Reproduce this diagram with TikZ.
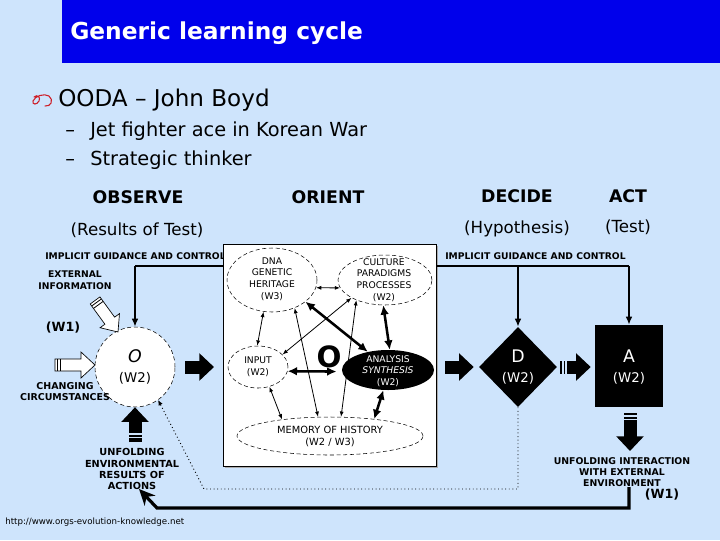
\documentclass[tikz,border=0pt]{standalone}
\usepackage{fontspec}
\setmainfont{DejaVu Sans}
\usetikzlibrary{arrows.meta,shapes.geometric}
\definecolor{bgc}{RGB}{206,228,252}
\definecolor{titleblue}{RGB}{0,0,235}
\definecolor{bulletred}{RGB}{205,30,40}
\begin{document}
\begin{tikzpicture}[x=0.75pt,y=-0.75pt,
  lab/.style={font=\fontsize{6.9}{9}\selectfont\bfseries, align=center, inner sep=0},
  inlab/.style={font=\fontsize{6.9}{8.8}\selectfont, align=center, inner sep=0},
  head/.style={font=\fontsize{13}{15}\selectfont\bfseries, inner sep=0},
  subhead/.style={font=\fontsize{12.5}{15}\selectfont, inner sep=0},
  ell/.style={ellipse, draw=black, densely dashed, line width=0.4pt, fill=white, inner sep=0},
  fatarrow/.style={line width=9.75pt, -{Triangle[length=11pt,width=20pt]}},
  ig/.style={line width=1.9pt, -{Latex[length=6pt,width=5pt]}},
  thinarr/.style={{Latex[length=4pt,width=3pt]}-{Latex[length=4pt,width=3pt]}, line width=0.6pt},
  thickarr/.style={{Latex[length=7pt,width=6.5pt]}-{Latex[length=7pt,width=6.5pt]}, line width=1.9pt},
  stripe/.style={bgc, line width=0.9pt}
]
\useasboundingbox (0,0) rectangle (720,540);
\fill[bgc] (0,0) rectangle (720,540);

% title
\fill[titleblue] (62,0) rectangle (720,63);
\node[anchor=west, text=white, font=\fontsize{17.5}{20}\selectfont\bfseries, inner sep=0] (title) at (70,33) {Generic learning cycle};

% bullets
\draw[bulletred, line width=0.8pt, line cap=round]
  (34,97) .. controls (37,94) and (41,97) .. (39,101)
  .. controls (37,105) and (32,105) .. (33,101)
  .. controls (35,96) and (44,93) .. (49,96)
  .. controls (54,100) and (51,107) .. (45,106);
\node[anchor=west, font=\fontsize{17.3}{20}\selectfont, inner sep=0] (ooda) at (58,100) {OODA – John Boyd};
\node[anchor=west, font=\fontsize{14.5}{17}\selectfont, inner sep=0] (jet) at (65,131) {\makebox[18.75pt][l]{–}Jet fighter ace in Korean War};
\node[anchor=west, font=\fontsize{14.5}{17}\selectfont, inner sep=0] (strat) at (65,160) {\makebox[18.75pt][l]{–}Strategic thinker};

% headings
\node[head] (hobs) at (138,197) {OBSERVE};
\node[head] (hori) at (328,197) {ORIENT};
\node[head] (hdec) at (517,196) {DECIDE};
\node[head] (hact) at (628,196) {ACT};
\node[subhead] (sobs) at (137,230) {(Results of Test)};
\node[subhead] (sdec) at (517,229) {(Hypothesis)};
\node[subhead] (sact) at (628,227) {(Test)};

% implicit guidance labels (left one runs under the box)
\node[lab, anchor=west] (igltext) at (45,256) {IMPLICIT GUIDANCE AND CONTROL};
\node[lab, anchor=west] (igrtext) at (445,256) {IMPLICIT GUIDANCE AND CONTROL};

% orient box
\node[fill=gray!65, minimum width=159.75pt, minimum height=166.5pt, inner sep=0] (boxsh) at (331.5,357) {};
\node[draw=black, fill=white, line width=0.5pt, minimum width=159.75pt, minimum height=166.5pt, inner sep=0] (box) at (329.5,355) {};

% observe circle
\node[circle, draw=black, densely dashed, line width=0.4pt, fill=white, minimum size=60pt, inner sep=0] (oc) at (135,367) {};
\node[font=\fontsize{13}{15}\selectfont\itshape, inner sep=0] (octxt) at (135,356) {O};
\node[font=\fontsize{10}{12}\selectfont, inner sep=0] (ocw) at (135,378) {(W2)};

% decide diamond, act box
\node[diamond, fill=black, minimum width=58.5pt, minimum height=60pt, inner sep=0] (dd) at (518,367) {};
\node[text=white, font=\fontsize{13}{15}\selectfont, inner sep=0] (ddtxt) at (518,356) {D};
\node[text=white, font=\fontsize{10}{12}\selectfont, inner sep=0] (ddw) at (518,378) {(W2)};
\node[fill=black, minimum width=51pt, minimum height=61.5pt, inner sep=0] (aa) at (629,366) {};
\node[text=white, font=\fontsize{13}{15}\selectfont, inner sep=0] (aatxt) at (629,356) {A};
\node[text=white, font=\fontsize{10}{12}\selectfont, inner sep=0] (aaw) at (629,378) {(W2)};

% labels around observe
\node[lab] (extinfo) at (75,280) {EXTERNAL\\INFORMATION};
\node[font=\fontsize{9.5}{11}\selectfont\bfseries, inner sep=0] (w1l) at (63,328) {(W1)};
\node[lab, font=\fontsize{7.1}{8.3}\selectfont\bfseries] (chg) at (65,392) {CHANGING\\CIRCUMSTANCES};
\node[lab, font=\fontsize{7.3}{8.3}\selectfont\bfseries] (unf) at (132,469) {UNFOLDING\\ENVIRONMENTAL\\RESULTS OF\\ACTIONS};
\node[lab, font=\fontsize{7}{8.5}\selectfont\bfseries] (unfi) at (622,472) {UNFOLDING INTERACTION\\WITH EXTERNAL\\ENVIRONMENT};
\node[font=\fontsize{9.5}{11}\selectfont\bfseries, inner sep=0] (w1r) at (662,495) {(W1)};

% white block arrows into O
\draw[fill=white, line width=0.5pt] (55,359) -- (81,359) -- (81,352) -- (95,365) -- (81,378) -- (81,371) -- (55,371) -- cycle;
\draw[line width=0.6pt] (57.5,359) -- (57.5,371) (60.5,359) -- (60.5,371);
\begin{scope}[shift={(118,332)}, rotate=-54]
  \draw[fill=white, line width=0.5pt] (-39,-6) -- (-14,-6) -- (-14,-12) -- (0,0) -- (-14,12) -- (-14,6) -- (-39,6) -- cycle;
  \draw[line width=0.6pt] (-36.5,-6) -- (-36.5,6) (-33.5,-6) -- (-33.5,6);
\end{scope}

% inner ellipses
\node[ell, minimum width=67.5pt, minimum height=48pt] (dna) at (272,280) {};
\node[ell, minimum width=70.5pt, minimum height=37.5pt] (cul) at (385,280) {};
\node[ell, minimum width=45pt, minimum height=31.5pt] (inp) at (258,367) {};
\node[ellipse, fill=black, inner sep=0, minimum width=69pt, minimum height=30pt] (ana) at (388,370) {};
\node[ell, minimum width=139.5pt, minimum height=28.5pt] (mem) at (330,436) {};
\node[inlab] (dnatxt) at (272,279) {DNA\\GENETIC\\HERITAGE\\(W3)};
\node[inlab] (cultxt) at (384,280) {CULTURE\\PARADIGMS\\PROCESSES\\(W2)};
\node[inlab] (inptxt) at (258,367) {INPUT\\(W2)};
\node[inlab, text=white] (anatxt) at (388,371) {ANALYSIS\\\itshape SYNTHESIS\\(W2)};
\node[inlab, font=\fontsize{7.4}{9}\selectfont] (memtxt) at (330,436) {MEMORY OF HISTORY\\(W2 / W3)};
\node[font=\fontsize{22}{24}\selectfont\bfseries, inner sep=0] (bigo) at (329,357) {O};

% inner connectors
\draw[thinarr] (dna.-10) -- (cul.190);
\draw[thinarr] (dna.-105) -- (inp.92);
\draw[thinarr] (dna.-51) -- (mem.122);
\draw[thinarr] (cul.208) -- (inp.27);
\draw[thinarr] (cul.215) -- (mem.60);
\draw[thinarr] (inp.-60) -- (mem.161);
\draw[thickarr] (cul.-94) -- (ana.85);
\draw[thickarr] (dna.-33) -- (ana.138);
\draw[thickarr, shorten >=4pt] (inp.-8) -- (ana.182);
\draw[thickarr] (ana.-103) -- (mem.21);

% fat black arrows
\draw[fatarrow, shorten <=7.5pt, shorten >=6.5pt] (oc.east) -- (box.west |- oc.east);
\draw[fatarrow, shorten <=6.75pt, shorten >=3.75pt] (box.east |- dd.west) -- (dd.west);
\draw[fatarrow, shorten <=2.25pt, shorten >=3pt] (dd.east) -- (aa.west |- dd.east);
\draw[stripe] (563,359) -- (563,375) (566,359) -- (566,375);
\coordinate (ut) at (135,442);
\draw[fatarrow] (ut) -- (oc.south);
\draw[stripe] (127,434) -- (143,434) (127,437.5) -- (143,437.5);
\coordinate (dt) at (630,413);
\coordinate (db) at (630,451);
\draw[fatarrow] (dt) -- (db);
\draw[stripe] (622,416) -- (638,416) (622,419.5) -- (638,419.5);

% implicit guidance and control lines
\coordinate (igl) at (135,266);
\coordinate (igr) at (629,266);
\coordinate (igd) at (518,266);
\draw[line width=1.9pt] (box.west |- igl) -- (igl);
\draw[ig] (igl) -- (oc.north);
\draw[line width=1.9pt] (box.east |- igr) -- (igr);
\draw[ig] (igr) -- (aa.north);
\draw[ig] (igd) -- (dd.north);

% feedback loops
\coordinate (f0) at (629,487);
\coordinate (f1) at (629,508);
\coordinate (f2) at (157,508);
\coordinate (ft) at (139,489);
\draw[line width=2.4pt, -{Stealth[length=12pt,width=11pt]}] (f0) -- (f1) -- (f2) -- (ft);
\coordinate (d1) at (518,489);
\coordinate (d2) at (204,489);
\draw[line width=0.7pt, dotted, -{Latex[length=4pt,width=3.5pt]}] (dd.south) -- (d1) -- (d2) -- (oc.-55);

% url
\node[anchor=west, font=\fontsize{6.5}{8}\selectfont, inner sep=0] (url) at (5,522) {http://www.orgs-evolution-knowledge.net};
\end{tikzpicture}
\end{document}
